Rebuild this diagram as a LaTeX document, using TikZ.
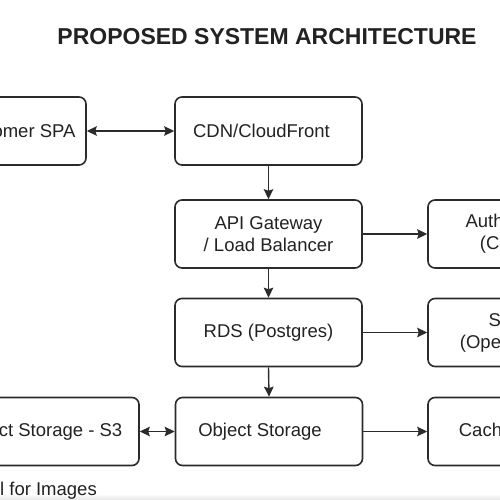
\documentclass[tikz,border=0pt]{standalone}
\usepackage{fontspec}
\setmainfont{Liberation Sans}
\usetikzlibrary{arrows.meta}
\definecolor{ink}{HTML}{2B2B2B}
\definecolor{txt}{HTML}{222222}
\tikzset{
  box/.style={draw=ink, line width=1.6pt, rounded corners=7pt, minimum height=68pt,
    align=center, text=txt, font=\fontsize{18.5}{22}\selectfont, inner sep=0pt},
  tip/.tip={Stealth[length=10pt,width=9.5pt,inset=1.5pt]},
  conn/.style={draw=ink, line width=1.4pt, -tip},
  conn2/.style={draw=ink, line width=1.4pt, tip-tip},
  lbl/.style={text=txt, font=\fontsize{18.5}{22}\selectfont, inner sep=0pt}
}
\begin{document}
\begin{tikzpicture}[x=1pt,y=-1pt]
\useasboundingbox (0,0) rectangle (500,500);
\clip (0,0) rectangle (500,500);
\fill[white] (0,0) rectangle (500,500);
\shade[top color=white, bottom color=black!10] (0,494) rectangle (500,500);
\node[text=txt, font=\bfseries\fontsize{23}{26}\selectfont, inner sep=0pt] (title) at (267,37) {PROPOSED SYSTEM ARCHITECTURE};

\node[box, minimum width=142pt] (spa) at (15,131) {Customer SPA};
\node[box, minimum width=187pt] (cdn) at (268.5,131) {\hspace*{-14pt}CDN/CloudFront};
\node[box, minimum width=187pt] (api) at (268.5,234) {API Gateway\\/ Load Balancer};
\node[box, minimum width=180pt] (auth) at (518,234) {Auth Service\\(Cognito)};
\node[box, minimum width=187pt] (rds) at (268.5,332.5) {RDS (Postgres)};
\node[box, minimum width=180pt] (search) at (518,332.5) {Search\\(OpenSearch)};
\node[box, minimum width=187pt] (obj) at (269,431.5) {\hspace*{-18pt}Object Storage};
\node[box, minimum width=196pt] (s3) at (41,431.5) {Object Storage - S3};
\node[box, minimum width=180pt] (cache) at (518,431.5) {Cache (Redis)};
\node[lbl, anchor=base east] (caption) at (97,495) {Thumbnail for Images};

\draw[conn2] (spa.east) -- (cdn.west);
\draw[conn] (cdn.south) -- (api.north);
\draw[conn] (api.east) -- (auth.west);
\draw[conn] (api.south) -- (rds.north);
\draw[conn] (rds.east) -- (search.west);
\draw[conn] (rds.south) -- (obj.north);
\draw[conn2] (s3.east) -- (obj.west);
\draw[conn] (obj.east) -- (cache.west);
\end{tikzpicture}
\end{document}
